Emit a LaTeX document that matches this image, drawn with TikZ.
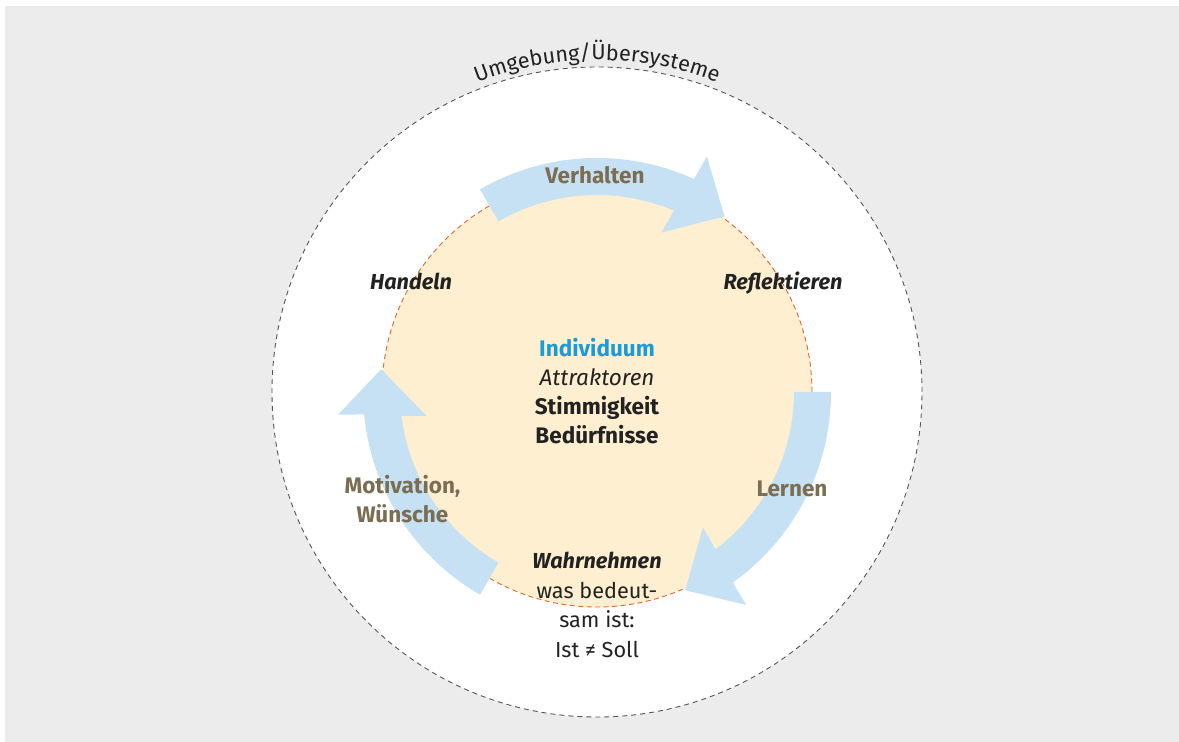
\documentclass[tikz,border=0pt]{standalone}
\usepackage{fontspec}
\setmainfont{Fira Sans}
\usetikzlibrary{decorations.text}
\definecolor{bggrey}{HTML}{EBECEB}
\definecolor{ringgrey}{HTML}{555555}
\definecolor{ringblue}{HTML}{C7E1F4}
\definecolor{corefill}{HTML}{FEEFD0}
\definecolor{coreline}{HTML}{E5632D}
\definecolor{labelbrown}{HTML}{7B6D52}
\definecolor{indblue}{HTML}{1B9BD7}
\definecolor{txtdark}{HTML}{222222}

\begin{document}
\begin{tikzpicture}[x=1pt,y=1pt,
    lbl/.style={font=\fontsize{22.5}{29}\selectfont\bfseries, text=txtdark, align=center, inner sep=0pt},
    phase/.style={lbl, font=\fontsize{21.7}{29}\selectfont\bfseries\itshape},
    note/.style={lbl, font=\fontsize{21.7}{29.5}\selectfont}]
    \useasboundingbox (-597,-350) rectangle (582,392);
    \fill[bggrey] (-592,-350) rectangle (582,386);
    
    \filldraw[fill=white, draw=ringgrey, line width=0.9pt, dash pattern=on 5pt off 4pt] (0,0) circle (325);
    \path[decorate, decoration={text along path, text color=txtdark, text align=center,
        text={|\fontsize{21.7}{26}\selectfont|Umgebung/Übersysteme}}]
        (128:332) arc[start angle=128, end angle=52, radius=332];
    
    \filldraw[fill=corefill, draw=coreline, line width=0.9pt, dash pattern=on 5pt off 3.5pt] (0,0) circle (215);
    
    \foreach \a in {0,120,240}
        \fill[ringblue] (\a:234) arc[start angle=\a, end angle=\a-54.5, radius=234]
            -- (\a-55:260) -- (\a-66:217) -- (\a-52:172) -- (\a-53:197)
            arc[start angle=\a-53, end angle=\a, radius=197] -- cycle;
    
    \node[lbl, text=labelbrown] (verhalten) at (-2,217) {Verhalten};
    \node[lbl, text=labelbrown] (lernen) at (195,-97) {Lernen};
    \node[lbl, text=labelbrown] (motivation) at (-194.5,-107) {Motivation,\\Wünsche};
    
    \node[phase] (handeln) at (-186,111) {Handeln};
    \node[phase] (reflektieren) at (186,109) {Reflektieren};
    
    \node[lbl] (individuum) at (0,1) {\textcolor{indblue}{Individuum}\\\textmd{\textit{Attraktoren}}\\Stimmigkeit\\Bedürfnisse};
    \node[note] (wahrnehmen) at (0,-213) {\textbf{\textit{Wahrnehmen}}\\was bedeut-\\sam ist:\\Ist ≠ Soll};
\end{tikzpicture}
\end{document}
